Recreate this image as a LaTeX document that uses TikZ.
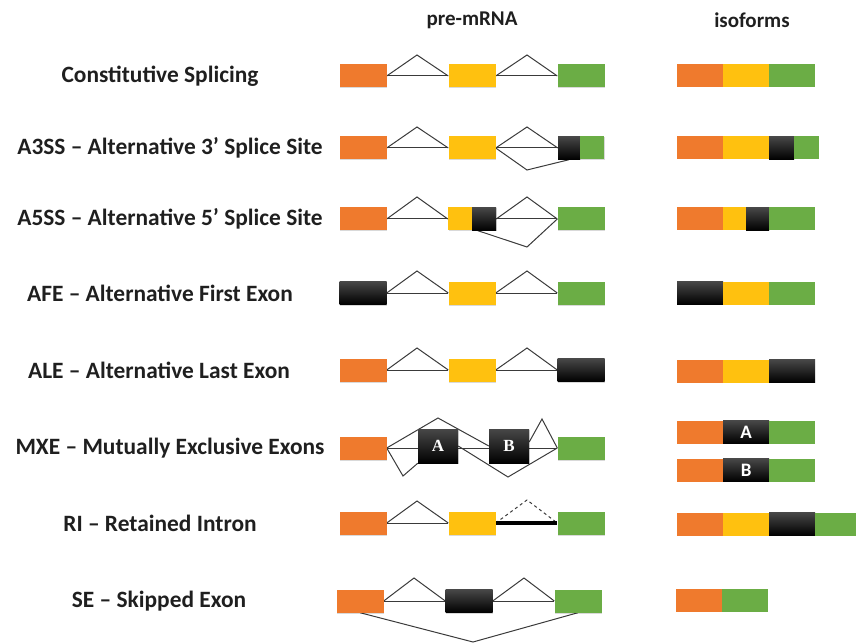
\documentclass[tikz,border=0pt]{standalone}
\usepackage{fontspec}
\setmainfont{Carlito}
\newfontfamily\exonletter{Liberation Serif}
\usetikzlibrary{shadows,calc}

\definecolor{exOrange}{HTML}{EF7A2D}
\definecolor{exYellow}{HTML}{FFC10F}
\definecolor{exGreen}{HTML}{6BAD45}
\definecolor{intronGray}{HTML}{3A3A3A}

\pgfdeclarelayer{bg}
\pgfsetlayers{bg,main}

\begin{document}
\begin{tikzpicture}[x=1pt,y=-1pt,
  exon/.style={rectangle, inner sep=0pt, minimum height=23pt, minimum width=47pt,
    drop shadow={shadow xshift=0.5pt, shadow yshift=-1pt, opacity=0.15, fill=black}},
  ora/.style={exon, fill=exOrange},
  yel/.style={exon, fill=exYellow},
  grn/.style={exon, fill=exGreen},
  blk/.style={exon, top color=black!72, bottom color=black},
  seg/.style={rectangle, inner sep=0pt, minimum height=23pt, minimum width=46pt, anchor=west},
  sora/.style={seg, fill=exOrange},
  syel/.style={seg, fill=exYellow},
  sgrn/.style={seg, fill=exGreen},
  sblk/.style={seg, top color=black!72, bottom color=black},
  intron/.style={draw=intronGray, line width=1pt, line join=miter},
  lab/.style={font=\fontsize{23.4}{27}\selectfont\bfseries, text=black!88},
  head/.style={font=\fontsize{21}{25}\selectfont\bfseries, text=black!88},
  mxe/.style={font=\exonletter\fontsize{17}{20}\selectfont\bfseries, text=white},
  mxeiso/.style={font=\fontsize{19}{22}\selectfont\bfseries, text=white},
]
\useasboundingbox (0,0) rectangle (856,644);

% column headings
\node[head] (hpre) at (472,20) {pre-mRNA};
\node[head] (hiso) at (752,20) {isoforms};

% event names
\node[lab] (lab1) at (160,76)  {Constitutive Splicing};
\node[lab] (lab2) at (170,148) {A3SS – Alternative 3’ Splice Site};
\node[lab] (lab3) at (170,219) {A5SS – Alternative 5’ Splice Site};
\node[lab] (lab4) at (160,293) {AFE – Alternative First Exon};
\node[lab] (lab5) at (159,370) {ALE – Alternative Last Exon};
\node[lab] (lab6) at (170,448) {MXE – Mutually Exclusive Exons};
\node[lab] (lab7) at (160,523) {RI – Retained Intron};
\node[lab] (lab8) at (159,601) {SE – Skipped Exon};

% ---------- pre-mRNA exons ----------
% constitutive
\node[ora] (o1) at (363,76) {};
\node[yel] (y1) at (472,76) {};
\node[grn] (g1) at (581,76) {};
% A3SS
\node[ora] (o2) at (363,148) {};
\node[yel] (y2) at (472,148) {};
\node[blk, minimum width=22pt] (k2) at (569,148) {};
\node[grn, minimum width=24pt] (g2) at (592,148) {};
% A5SS
\node[ora] (o3) at (363,219) {};
\node[yel, minimum width=24pt] (y3) at (460,219) {};
\node[blk, minimum width=24pt] (k3) at (484,219) {};
\node[grn] (g3) at (581,219) {};
% AFE
\node[blk] (k4) at (363,293) {};
\node[yel] (y4) at (472,293) {};
\node[grn] (g4) at (581,293) {};
% ALE
\node[ora] (o5) at (363,370) {};
\node[yel] (y5) at (472,370) {};
\node[blk] (k5) at (581,370) {};
% MXE
\node[ora] (o6) at (363,448) {};
\node[blk, minimum width=40pt, minimum height=34pt, mxe] (xa) at (438,446) {A};
\node[blk, minimum width=40pt, minimum height=34pt, mxe] (xb) at (509,446) {B};
\node[grn] (g6) at (581,448) {};
% RI
\node[ora] (o7) at (363,523) {};
\node[yel] (y7) at (472,523) {};
\node[grn] (g7) at (581,523) {};
% SE
\node[ora] (o8) at (360,601) {};
\node[blk] (k8) at (469,601) {};
\node[grn] (g8) at (578,601) {};

% ---------- introns ----------
\begin{pgfonlayer}{bg}
  % constitutive
  \draw[intron] (o1.east) -- (y1.west) (y1.east) -- (g1.west);
  \draw[intron] (o1.east) -- (417,55) -- (y1.west);
  \draw[intron] (y1.east) -- (527,55) -- (g1.west);
  % A3SS
  \draw[intron] (o2.east) -- (y2.west) (y2.east) -- (k2.west);
  \draw[intron] (o2.east) -- (417,127) -- (y2.west);
  \draw[intron] (y2.east) -- (527,127) -- (k2.west);
  \draw[intron] (y2.east) -- (527,170) -- (k2.south);
  % A5SS
  \draw[intron] (o3.east) -- (y3.west) (k3.east) -- (g3.west);
  \draw[intron] (o3.east) -- (417,197) -- (y3.west);
  \draw[intron] (k3.east) -- (527,197) -- (g3.west);
  \draw[intron] ($(k3.south west)!0.25!(k3.south east)$) -- (527,247) -- (g3.west);
  % AFE
  \draw[intron] (k4.east) -- (y4.west) (y4.east) -- (g4.west);
  \draw[intron] (k4.east) -- (417,271) -- (y4.west);
  \draw[intron] (y4.east) -- (527,271) -- (g4.west);
  % ALE
  \draw[intron] (o5.east) -- (y5.west) (y5.east) -- (k5.west);
  \draw[intron] (o5.east) -- (417,348) -- (y5.west);
  \draw[intron] (y5.east) -- (527,348) -- (k5.west);
  % MXE
  \draw[intron] (o6.east) -- (g6.west);
  \draw[intron] (o6.east) -- (438,418) -- (xb.west);
  \draw[intron] (o6.east) -- (403,476) -- (xa.south west);
  \draw[intron] (xa.east) -- (508,477) -- (g6.west);
  \draw[intron] ($(xb.east)+(0,-4)$) -- (542,419) -- (g6.west);
  % RI
  \draw[intron] (o7.east) -- (y7.west);
  \draw[intron] (o7.east) -- (417,501) -- (y7.west);
  \draw[intron, dashed] (y7.east) -- (527,500) -- (g7.west);
  \draw[line width=4.5pt, black] (y7.east) -- (g7.west);
  % SE
  \draw[intron] (o8.east) -- (k8.west) (k8.east) -- (g8.west);
  \draw[intron] (o8.east) -- (414,578) -- (k8.west);
  \draw[intron] (k8.east) -- (524,578) -- (g8.west);
  \draw[intron] (o8.south) -- (473,642) -- (g8.south);
\end{pgfonlayer}

% ---------- isoforms ----------
% constitutive
\node[sora] (i1a) at (677,76) {};
\node[syel] (i1b) at (723,76) {};
\node[sgrn] (i1c) at (769,76) {};
% A3SS
\node[sora] (i2a) at (677,148) {};
\node[syel] (i2b) at (723,148) {};
\node[sblk, minimum width=25pt] (i2c) at (769,148) {};
\node[sgrn, minimum width=25pt] (i2d) at (794,148) {};
% A5SS
\node[sora] (i3a) at (677,219) {};
\node[syel, minimum width=23pt] (i3b) at (723,219) {};
\node[sblk, minimum width=23pt] (i3c) at (746,219) {};
\node[sgrn] (i3d) at (769,219) {};
% AFE
\node[sblk] (i4a) at (677,293) {};
\node[syel] (i4b) at (723,293) {};
\node[sgrn] (i4c) at (769,293) {};
% ALE
\node[sora] (i5a) at (677,371) {};
\node[syel] (i5b) at (723,371) {};
\node[sblk] (i5c) at (769,371) {};
% MXE
\node[sora] (i6a) at (677,432) {};
\node[sblk, mxeiso] (i6b) at (723,432) {A};
\node[sgrn] (i6c) at (769,432) {};
\node[sora] (i6d) at (677,470) {};
\node[sblk, mxeiso] (i6e) at (723,470) {B};
\node[sgrn] (i6f) at (769,470) {};
% RI
\node[sora] (i7a) at (677,524) {};
\node[syel] (i7b) at (723,524) {};
\node[sblk] (i7c) at (769,524) {};
\node[sgrn, minimum width=42pt] (i7d) at (815,524) {};
% SE
\node[sora] (i8a) at (676,600) {};
\node[sgrn] (i8b) at (722,600) {};
\end{tikzpicture}
\end{document}
